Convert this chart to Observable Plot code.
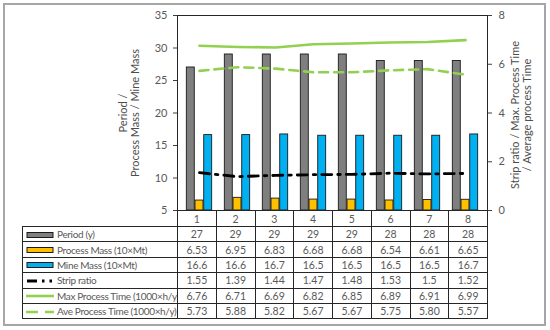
<!DOCTYPE html>
<html>
<head>
<meta charset="utf-8">
<script src="https://cdn.jsdelivr.net/npm/d3@7"></script>
<script src="https://cdn.jsdelivr.net/npm/@observablehq/plot@0.6"></script>
<style>
  html, body { margin: 0; padding: 0; background: #fff; }
  #wrap { position: relative; width: 550px; height: 330px; font-family: Lato, "Open Sans", sans-serif; overflow: hidden; }
  #outer { position: absolute; left: 3px; top: 3px; width: 539px; height: 319px; border: 2px solid #a6a6a6; pointer-events: none; }
  #chart { position: absolute; left: 0; top: 0; }
  #tbl { position: absolute; left: 22px; top: 210px; border-collapse: collapse; table-layout: fixed; width: 465px; }
  #tbl td { border: 1px solid #262626; padding: 0; text-align: center; font-size: 10.5px; color: #595959; height: 14.4px; line-height: 14px; white-space: nowrap; overflow: hidden; }
  #tbl tr.head td { height: 15px; }
  #tbl tr.head td.blank { border-top: none; border-left: none; }
  #tbl td.lab { text-align: left; padding-left: 3px; font-size: 10px; letter-spacing: -0.35px; }
  #tbl td.lab svg { vertical-align: middle; margin-right: 3px; position: relative; top: -1px; }
</style>
</head>
<body>
<div id="wrap">
  <div id="chart"></div>
  <div id="outer"></div>
</div>
<script>
// ---- data ----
const categories = [1, 2, 3, 4, 5, 6, 7, 8];
const period = [27, 29, 29, 29, 29, 28, 28, 28];
const processMass = [6.53, 6.95, 6.83, 6.68, 6.68, 6.54, 6.61, 6.65];
const mineMass = [16.6, 16.6, 16.7, 16.5, 16.5, 16.5, 16.5, 16.7];
const stripRatio = [1.55, 1.39, 1.44, 1.47, 1.48, 1.53, 1.5, 1.52];
const maxTime = [6.76, 6.71, 6.69, 6.82, 6.85, 6.89, 6.91, 6.99];
const aveTime = [5.73, 5.88, 5.82, 5.67, 5.67, 5.75, 5.80, 5.57];
const leftTicks = [5, 10, 15, 20, 25, 30, 35];
const rightTicks = [0, 2, 4, 6, 8];
const seriesNames = ["Period (y)", "Process Mass (10×Mt)", "Mine Mass (10×Mt)", "Strip ratio", "Max Process Time (1000×h/y)", "Ave Process Time (1000×h/y)"];
const leftTitle = "Period /\nProcess Mass / Mine Mass";
const rightTitle = "Strip ratio / Max. Process Time\n/ Average process Time";

// ---- styling ----
const colors = { period: "#7f7f7f", pm: "#ffc000", mm: "#00b0f0", sr: "#000000", mx: "#92d050", av: "#92d050" };
const W = 550, H = 330, mL = 177, mR = 63, mT = 15, mB = 120;
const yMin = leftTicks[0], yMax = leftTicks[leftTicks.length - 1];
const rMin = rightTicks[0], rMax = rightTicks[rightTicks.length - 1];
const toLeft = v => yMin + (v - rMin) * (yMax - yMin) / (rMax - rMin);
const toRight = v => rMin + (v - yMin) * (rMax - rMin) / (yMax - yMin);

const data = categories.map((c, i) => ({
  c, period: period[i], pm: processMass[i], mm: mineMass[i],
  sr: stripRatio[i], mx: maxTime[i], av: aveTime[i]
}));

const step = (W - mL - mR) / categories.length;
const barW = step * 0.2245;
const pad = (step - 3 * barW) / 2;
const barStyle = { stroke: "#1a1a1a", strokeWidth: 0.9 };

const chart = Plot.plot({
  width: W, height: H,
  marginLeft: mL, marginRight: mR, marginTop: mT, marginBottom: mB,
  style: { fontFamily: "Lato, 'Open Sans', sans-serif", fontSize: "11px", color: "#595959", background: "transparent" },
  x: { type: "band", domain: categories, padding: 0, axis: null },
  y: { domain: [yMin, yMax], axis: null },
  marks: [
    Plot.barY(data, { x: "c", y1: () => yMin, y2: "period", fill: colors.period, ...barStyle, insetLeft: pad, insetRight: step - pad - barW }),
    Plot.barY(data, { x: "c", y1: () => yMin, y2: "pm", fill: colors.pm, ...barStyle, insetLeft: pad + barW, insetRight: pad + barW }),
    Plot.barY(data, { x: "c", y1: () => yMin, y2: "mm", fill: colors.mm, ...barStyle, insetLeft: step - pad - barW, insetRight: pad }),
    Plot.line(data, { x: "c", y: d => toLeft(d.mx), stroke: colors.mx, strokeWidth: 2.6 }),
    Plot.line(data, { x: "c", y: d => toLeft(d.av), stroke: colors.av, strokeWidth: 2.6, strokeDasharray: "9,6" }),
    Plot.line(data, { x: "c", y: d => toLeft(d.sr), stroke: colors.sr, strokeWidth: 2.8, strokeDasharray: "10,6,2.5,6" }),
    Plot.frame({ stroke: "#262626", strokeWidth: 1 }),
    Plot.axisY(leftTicks, { anchor: "left", tickSize: 4, tickPadding: 6, label: null, fill: "#595959", stroke: "#404040", fontSize: 11 }),
    Plot.axisY(rightTicks.map(toLeft), { anchor: "right", tickSize: 4, tickPadding: 7, label: null, fill: "#595959", stroke: "#404040", fontSize: 11, tickFormat: v => String(Math.round(toRight(v))) }),
    Plot.text([leftTitle], { frameAnchor: "left", textAnchor: "middle", rotate: -90, dx: -48, fontSize: 11, lineHeight: 1.1, fill: "#4d4d4d" }),
    Plot.text([rightTitle], { frameAnchor: "right", textAnchor: "middle", rotate: -90, dx: 34, dy: 2, fontSize: 11, lineHeight: 1.1, fill: "#4d4d4d" })
  ]
});
document.getElementById("chart").appendChild(chart);

// ---- data table (legend + values) ----
function keySvg(i) {
  const w = 28, h = 8;
  const ns = "http://www.w3.org/2000/svg";
  const svg = document.createElementNS(ns, "svg");
  svg.setAttribute("width", w); svg.setAttribute("height", h);
  const add = (tag, attrs) => { const e = document.createElementNS(ns, tag); for (const k in attrs) e.setAttribute(k, attrs[k]); svg.appendChild(e); };
  const fills = [colors.period, colors.pm, colors.mm];
  if (i < 3) add("rect", { x: 1, y: 1.5, width: w - 2, height: 5, fill: fills[i], stroke: "#1a1a1a", "stroke-width": 1 });
  else if (i === 3) add("line", { x1: 1, x2: w, y1: 4, y2: 4, stroke: "#000", "stroke-width": 3, "stroke-dasharray": "10,5,2.5,5,2.5,5" });
  else if (i === 4) add("line", { x1: 0, x2: w, y1: 4, y2: 4, stroke: colors.mx, "stroke-width": 2.6 });
  else add("line", { x1: 0, x2: w, y1: 4, y2: 4, stroke: colors.av, "stroke-width": 2.6, "stroke-dasharray": "12,7" });
  return svg;
}
const rows = [
  period.map(String),
  processMass.map(v => v.toFixed(2)),
  mineMass.map(v => v.toFixed(1)),
  stripRatio.map(String),
  maxTime.map(v => v.toFixed(2)),
  aveTime.map(v => v.toFixed(2))
];
const tbl = document.createElement("table");
tbl.id = "tbl";
const cg = document.createElement("colgroup");
const c0 = document.createElement("col"); c0.style.width = (mL - 22) + "px"; cg.appendChild(c0);
categories.forEach(() => { const c = document.createElement("col"); c.style.width = step + "px"; cg.appendChild(c); });
tbl.appendChild(cg);
const head = document.createElement("tr"); head.className = "head";
const hb = document.createElement("td"); hb.className = "blank"; head.appendChild(hb);
categories.forEach(c => { const td = document.createElement("td"); td.textContent = c; head.appendChild(td); });
tbl.appendChild(head);
rows.forEach((r, i) => {
  const tr = document.createElement("tr");
  const lab = document.createElement("td"); lab.className = "lab";
  lab.appendChild(keySvg(i));
  lab.appendChild(document.createTextNode(seriesNames[i]));
  tr.appendChild(lab);
  r.forEach(v => { const td = document.createElement("td"); td.textContent = v; tr.appendChild(td); });
  tbl.appendChild(tr);
});
document.getElementById("wrap").appendChild(tbl);
</script>
</body>
</html>
